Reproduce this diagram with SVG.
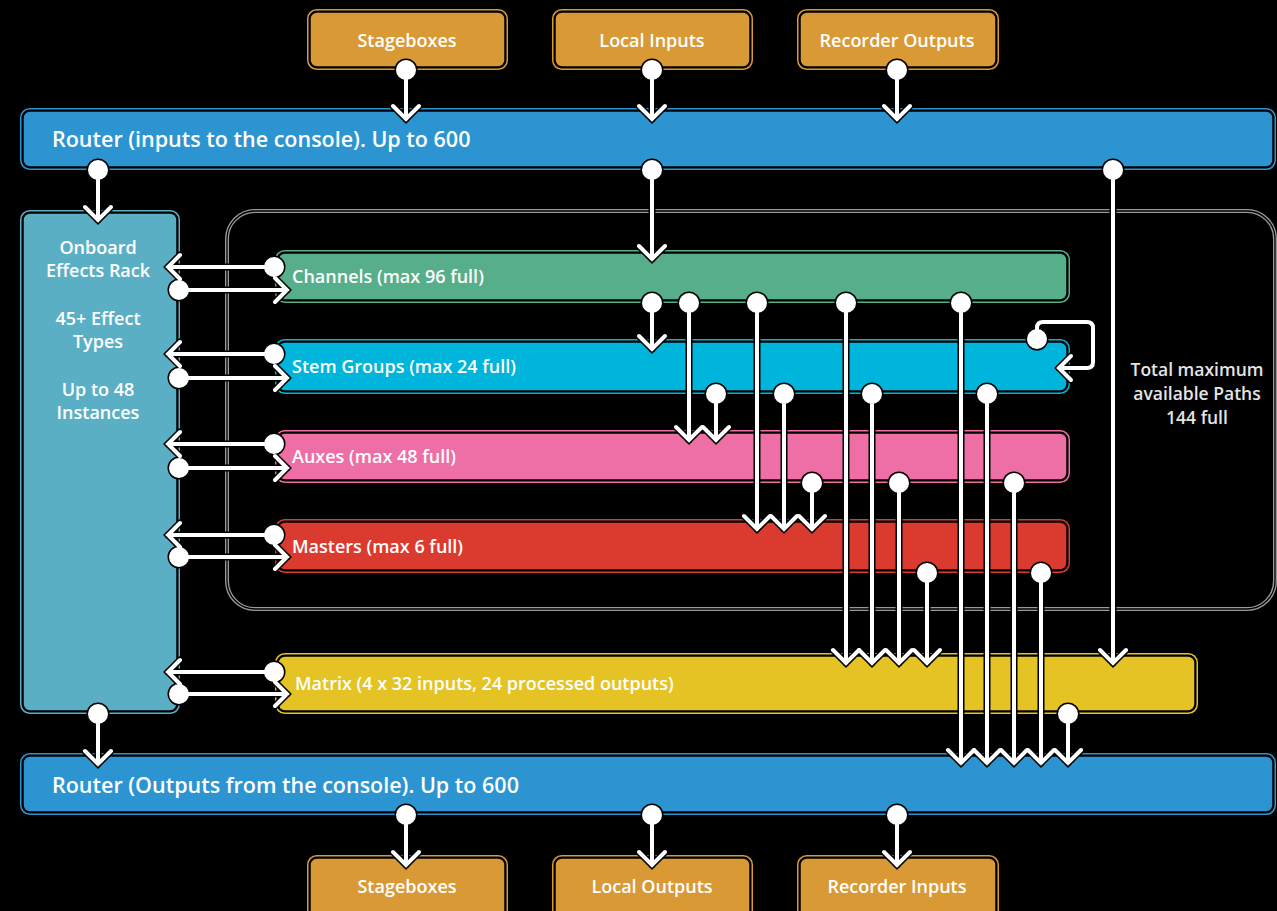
<svg xmlns="http://www.w3.org/2000/svg" xmlns:xlink="http://www.w3.org/1999/xlink" width="1277" height="911" viewBox="0 0 1277 911">
<style>
.t{font-family:"Open Sans","Noto Sans",sans-serif;font-weight:600;fill:#fff}
.lbl{font-size:18px}
.big{font-size:21.5px}
.box{font-size:18px;text-anchor:middle}
.mid{text-anchor:middle}
.note{font-size:17.5px;fill:#e4e4e4}
.ring{fill:none;stroke-width:1.5}
.fillr{stroke:#000;stroke-width:1.5}
</style>
<defs>
<g id="a1"><path fill="none" d="M406 70V119M393 106L406 119L419 106"/><circle cx="406" cy="70" r="8"/></g>
<g id="a2"><path fill="none" d="M652 70V119M639 106L652 119L665 106"/><circle cx="652" cy="70" r="8"/></g>
<g id="a3"><path fill="none" d="M897 70V119M884 106L897 119L910 106"/><circle cx="897" cy="70" r="8"/></g>
<g id="a4"><path fill="none" d="M98 170V220M85 207L98 220L111 207"/><circle cx="98" cy="170" r="8"/></g>
<g id="a5"><path fill="none" d="M652 170V259M639 246L652 259L665 246"/><circle cx="652" cy="170" r="8"/></g>
<g id="a6"><path fill="none" d="M1113 170V663M1100 650L1113 663L1126 650"/><circle cx="1113" cy="170" r="8"/></g>
<g id="c1"><path fill="none" d="M652 303V349M639 336L652 349L665 336"/><circle cx="652" cy="303" r="8"/></g>
<g id="c2"><path fill="none" d="M689 303V440M676 427L689 440L702 427"/><circle cx="689" cy="303" r="8"/></g>
<g id="c3"><path fill="none" d="M757 303V529M744 516L757 529L770 516"/><circle cx="757" cy="303" r="8"/></g>
<g id="c4"><path fill="none" d="M846 303V663M833 650L846 663L859 650"/><circle cx="846" cy="303" r="8"/></g>
<g id="c5"><path fill="none" d="M961 303V763M948 750L961 763L974 750"/><circle cx="961" cy="303" r="8"/></g>
<g id="s1"><path fill="none" d="M716 394V440M703 427L716 440L729 427"/><circle cx="716" cy="394" r="8"/></g>
<g id="s2"><path fill="none" d="M784 394V529M771 516L784 529L797 516"/><circle cx="784" cy="394" r="8"/></g>
<g id="s3"><path fill="none" d="M872 394V663M859 650L872 663L885 650"/><circle cx="872" cy="394" r="8"/></g>
<g id="s4"><path fill="none" d="M987 394V763M974 750L987 763L1000 750"/><circle cx="987" cy="394" r="8"/></g>
<g id="s5"><path fill="none" d="M1037 339V328Q1037 322 1043 322H1087Q1093 322 1093 328V362Q1093 368 1087 368H1059M1071 356L1059 368L1071 380"/><circle cx="1037" cy="339" r="8"/></g>
<g id="x1"><path fill="none" d="M812 483V529M799 516L812 529L825 516"/><circle cx="812" cy="483" r="8"/></g>
<g id="x2"><path fill="none" d="M899 483V663M886 650L899 663L912 650"/><circle cx="899" cy="483" r="8"/></g>
<g id="x3"><path fill="none" d="M1014 483V763M1001 750L1014 763L1027 750"/><circle cx="1014" cy="483" r="8"/></g>
<g id="m1"><path fill="none" d="M927 573V663M914 650L927 663L940 650"/><circle cx="927" cy="573" r="8"/></g>
<g id="m2"><path fill="none" d="M1041 573V763M1028 750L1041 763L1054 750"/><circle cx="1041" cy="573" r="8"/></g>
<g id="t1"><path fill="none" d="M1068 714V763M1055 750L1068 763L1081 750"/><circle cx="1068" cy="714" r="8"/></g>
<g id="r1"><path fill="none" d="M98 714V764M85 751L98 764L111 751"/><circle cx="98" cy="714" r="8"/></g>
<g id="b1"><path fill="none" d="M406 815V865M393 852L406 865L419 852"/><circle cx="406" cy="815" r="8"/></g>
<g id="b2"><path fill="none" d="M652 815V865M639 852L652 865L665 852"/><circle cx="652" cy="815" r="8"/></g>
<g id="b3"><path fill="none" d="M897 815V865M884 852L897 865L910 852"/><circle cx="897" cy="815" r="8"/></g>
<g id="h1"><path fill="none" d="M274 267H168M180 255L168 267L180 279"/><circle cx="274" cy="267" r="8"/><path fill="none" d="M179 290H287M275 278L287 290L275 302"/><circle cx="179" cy="290" r="8"/></g>
<g id="h2"><path fill="none" d="M274 354H168M180 342L168 354L180 366"/><circle cx="274" cy="354" r="8"/><path fill="none" d="M179 378H287M275 366L287 378L275 390"/><circle cx="179" cy="378" r="8"/></g>
<g id="h3"><path fill="none" d="M274 444H168M180 432L168 444L180 456"/><circle cx="274" cy="444" r="8"/><path fill="none" d="M179 468H287M275 456L287 468L275 480"/><circle cx="179" cy="468" r="8"/></g>
<g id="h4"><path fill="none" d="M274 535H168M180 523L168 535L180 547"/><circle cx="274" cy="535" r="8"/><path fill="none" d="M179 557H287M275 545L287 557L275 569"/><circle cx="179" cy="557" r="8"/></g>
<g id="h5"><path fill="none" d="M274 672H168M180 660L168 672L180 684"/><circle cx="274" cy="672" r="8"/><path fill="none" d="M179 694H287M275 682L287 694L275 706"/><circle cx="179" cy="694" r="8"/></g>
</defs>
<rect width="1277" height="911" fill="#000"/>
<g id="container">
<rect x="227" y="211" width="1048" height="398" rx="28" fill="none" stroke="#9a9a9a" stroke-width="4"/>
<rect x="227" y="211" width="1048" height="398" rx="28" fill="none" stroke="#000" stroke-width="1.3"/>
</g>
<g id="in-stageboxes">
<rect class="ring" x="307.75" y="9.75" width="199.5" height="59.5" rx="9" stroke="#D99A36"/>
<rect class="fillr" x="310" y="12" width="195" height="55" rx="7" fill="#D99A36"/>
<text class="t box" x="407" y="47">Stageboxes</text>
</g>
<g id="in-local">
<rect class="ring" x="552.75" y="9.75" width="199.5" height="59.5" rx="9" stroke="#D99A36"/>
<rect class="fillr" x="555" y="12" width="195" height="55" rx="7" fill="#D99A36"/>
<text class="t box" x="652" y="47">Local Inputs</text>
</g>
<g id="in-recorder">
<rect class="ring" x="797.75" y="9.75" width="200.5" height="59.5" rx="9" stroke="#D99A36"/>
<rect class="fillr" x="800" y="12" width="196" height="55" rx="7" fill="#D99A36"/>
<text class="t box" x="897" y="47">Recorder Outputs</text>
</g>
<g id="router-in">
<rect class="ring" x="20.75" y="108.75" width="1254.5" height="60.5" rx="9" stroke="#2C95D1"/>
<rect class="fillr" x="23" y="111" width="1250" height="56" rx="7" fill="#2C95D1"/>
<text class="t big" x="52" y="147">Router (inputs to the console). Up to 600</text>
</g>
<g id="effects-rack">
<rect class="ring" x="20.75" y="210.75" width="158.5" height="502.5" rx="9" stroke="#5BAFC5"/>
<rect class="fillr" x="23" y="213" width="154" height="498" rx="7" fill="#5BAFC5"/>
<text class="t lbl mid" x="98" y="254">Onboard</text>
<text class="t lbl mid" x="98" y="277">Effects Rack</text>
<text class="t lbl mid" x="98" y="325">45+ Effect</text>
<text class="t lbl mid" x="98" y="348">Types</text>
<text class="t lbl mid" x="98" y="396">Up to 48</text>
<text class="t lbl mid" x="98" y="419">Instances</text>
</g>
<g id="channels">
<rect class="ring" x="275.75" y="250.75" width="793.5" height="51.5" rx="9" stroke="#57AE8A"/>
<rect class="fillr" x="278" y="253" width="789" height="47" rx="7" fill="#57AE8A"/>
<text class="t lbl" x="292" y="283">Channels (max 96 full)</text>
</g>
<g id="stem-groups">
<rect class="ring" x="275.75" y="339.75" width="793.5" height="53.5" rx="9" stroke="#00B5DB"/>
<rect class="fillr" x="278" y="342" width="789" height="49" rx="7" fill="#00B5DB"/>
<text class="t lbl" x="292" y="373">Stem Groups (max 24 full)</text>
</g>
<g id="auxes">
<rect class="ring" x="275.75" y="430.75" width="793.5" height="51.5" rx="9" stroke="#EE6EA6"/>
<rect class="fillr" x="278" y="433" width="789" height="47" rx="7" fill="#EE6EA6"/>
<text class="t lbl" x="292" y="463">Auxes (max 48 full)</text>
</g>
<g id="masters">
<rect class="ring" x="275.75" y="519.75" width="793.5" height="52.5" rx="9" stroke="#DB3B2E"/>
<rect class="fillr" x="278" y="522" width="789" height="48" rx="7" fill="#DB3B2E"/>
<text class="t lbl" x="292" y="553">Masters (max 6 full)</text>
</g>
<g id="matrix">
<rect class="ring" x="275.75" y="653.75" width="921.5" height="59.5" rx="9" stroke="#E6C325"/>
<rect class="fillr" x="278" y="656" width="917" height="55" rx="7" fill="#E6C325"/>
<text class="t lbl" x="295" y="690">Matrix (4 x 32 inputs, 24 processed outputs)</text>
</g>
<g id="router-out">
<rect class="ring" x="20.75" y="753.75" width="1254.5" height="60.5" rx="9" stroke="#2C95D1"/>
<rect class="fillr" x="23" y="756" width="1250" height="56" rx="7" fill="#2C95D1"/>
<text class="t big" x="52" y="793">Router (Outputs from the console). Up to 600</text>
</g>
<g id="out-stageboxes">
<rect class="ring" x="307.75" y="855.75" width="199.5" height="70" rx="9" stroke="#D99A36"/>
<rect class="fillr" x="310" y="858" width="195" height="66" rx="7" fill="#D99A36"/>
<text class="t box" x="407" y="893">Stageboxes</text>
</g>
<g id="out-local">
<rect class="ring" x="552.75" y="855.75" width="199.5" height="70" rx="9" stroke="#D99A36"/>
<rect class="fillr" x="555" y="858" width="195" height="66" rx="7" fill="#D99A36"/>
<text class="t box" x="652" y="893">Local Outputs</text>
</g>
<g id="out-recorder">
<rect class="ring" x="797.75" y="855.75" width="200.5" height="70" rx="9" stroke="#D99A36"/>
<rect class="fillr" x="800" y="858" width="196" height="66" rx="7" fill="#D99A36"/>
<text class="t box" x="897" y="893">Recorder Inputs</text>
</g>
<g id="total-note">
<text class="t mid note" x="1197" y="376">Total maximum</text>
<text class="t mid note" x="1197" y="400">available Paths</text>
<text class="t mid note" x="1197" y="424">144 full</text>
</g>
<g id="connectors" stroke-linecap="round" stroke-linejoin="miter">
<g fill="#000" stroke="#000" stroke-width="7">
<use href="#a1"/><use href="#a2"/><use href="#a3"/><use href="#a4"/><use href="#a5"/><use href="#a6"/>
<use href="#c1"/><use href="#c2"/><use href="#c3"/><use href="#c4"/><use href="#c5"/>
<use href="#s1"/><use href="#s2"/><use href="#s3"/><use href="#s4"/><use href="#s5"/>
<use href="#x1"/><use href="#x2"/><use href="#x3"/><use href="#m1"/><use href="#m2"/><use href="#t1"/>
<use href="#r1"/><use href="#b1"/><use href="#b2"/><use href="#b3"/>
<use href="#h1"/><use href="#h2"/><use href="#h3"/><use href="#h4"/><use href="#h5"/>
</g>
<g fill="#fff" stroke="#fff" stroke-width="4">
<use href="#a1"/><use href="#a2"/><use href="#a3"/><use href="#a4"/><use href="#a5"/><use href="#a6"/>
<use href="#c1"/><use href="#c2"/><use href="#c3"/><use href="#c4"/><use href="#c5"/>
<use href="#s1"/><use href="#s2"/><use href="#s3"/><use href="#s4"/><use href="#s5"/>
<use href="#x1"/><use href="#x2"/><use href="#x3"/><use href="#m1"/><use href="#m2"/><use href="#t1"/>
<use href="#r1"/><use href="#b1"/><use href="#b2"/><use href="#b3"/>
<use href="#h1"/><use href="#h2"/><use href="#h3"/><use href="#h4"/><use href="#h5"/>
</g>
</g>
</svg>
